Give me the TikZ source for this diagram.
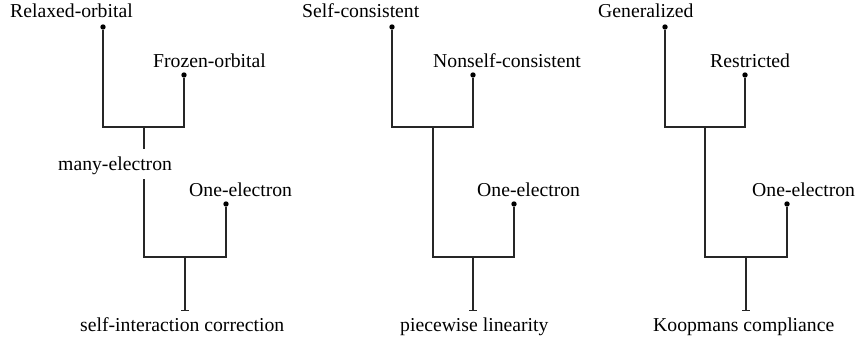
\documentclass[tikz,border=0pt]{standalone}
\usepackage{fontspec}
\setmainfont{Liberation Serif}
\usetikzlibrary{arrows.meta}
\begin{document}
\begin{tikzpicture}[x=1pt,y=-1pt,
  lbl/.style={anchor=base west,inner sep=0pt,font=\fontsize{19.7}{24}\selectfont},
  dotnode/.style={circle,fill=black,inner sep=0pt,minimum size=5.4pt},
  link/.style={draw=black!85,line width=1.1pt},
  endbar/.style={link,-{Bar[width=7.5pt,line width=1.1pt]}}]
\useasboundingbox (0,0) rectangle (859,345);
% ---------- tree 1 ----------
\node[lbl] (a1) at (10,17.5) {Relaxed-orbital};
\node[lbl] (b1) at (153,67.5) {Frozen-orbital};
\node[lbl] (m1) at (58,170) {many-electron};
\node[lbl] (c1) at (189,196) {One-electron};
\node[lbl] (d1) at (80,331.5) {self-interaction correction};
\node[dotnode] (pa1) at (103,27) {};
\node[dotnode] (pb1) at (184,75) {};
\node[dotnode] (pc1) at (226,204) {};
\coordinate (j1) at (144,127);
\coordinate (s1) at (144,149);
\coordinate (t1) at (144,179);
\coordinate (k1) at (185,257);
\coordinate (e1) at (185,311);
\draw[link] (pa1) |- (j1) -| (pb1);
\draw[link] (j1) -- (s1);
\draw[link] (t1) |- (k1) -| (pc1);
\draw[endbar] (k1) -- (e1);
% ---------- tree 2 ----------
\node[lbl] (a2) at (302,17.5) {Self-consistent};
\node[lbl] (b2) at (433,67.5) {Nonself-consistent};
\node[lbl] (c2) at (477,196) {One-electron};
\node[lbl] (d2) at (400,331.5) {piecewise linearity};
\node[dotnode] (pa2) at (392,27) {};
\node[dotnode] (pb2) at (473,75) {};
\node[dotnode] (pc2) at (514,204) {};
\coordinate (j2) at (433,127);
\coordinate (k2) at (473,257);
\coordinate (e2) at (473,311);
\draw[link] (pa2) |- (j2) -| (pb2);
\draw[link] (j2) |- (k2) -| (pc2);
\draw[endbar] (k2) -- (e2);
% ---------- tree 3 ----------
\node[lbl] (a3) at (598,17.5) {Generalized};
\node[lbl] (b3) at (710,67.5) {Restricted};
\node[lbl] (c3) at (752,196) {One-electron};
\node[lbl] (d3) at (653,331.5) {Koopmans compliance};
\node[dotnode] (pa3) at (665,27) {};
\node[dotnode] (pb3) at (745,75) {};
\node[dotnode] (pc3) at (787,204) {};
\coordinate (j3) at (705,127);
\coordinate (k3) at (746,257);
\coordinate (e3) at (746,311);
\draw[link] (pa3) |- (j3) -| (pb3);
\draw[link] (j3) |- (k3) -| (pc3);
\draw[endbar] (k3) -- (e3);
\end{tikzpicture}
\end{document}
